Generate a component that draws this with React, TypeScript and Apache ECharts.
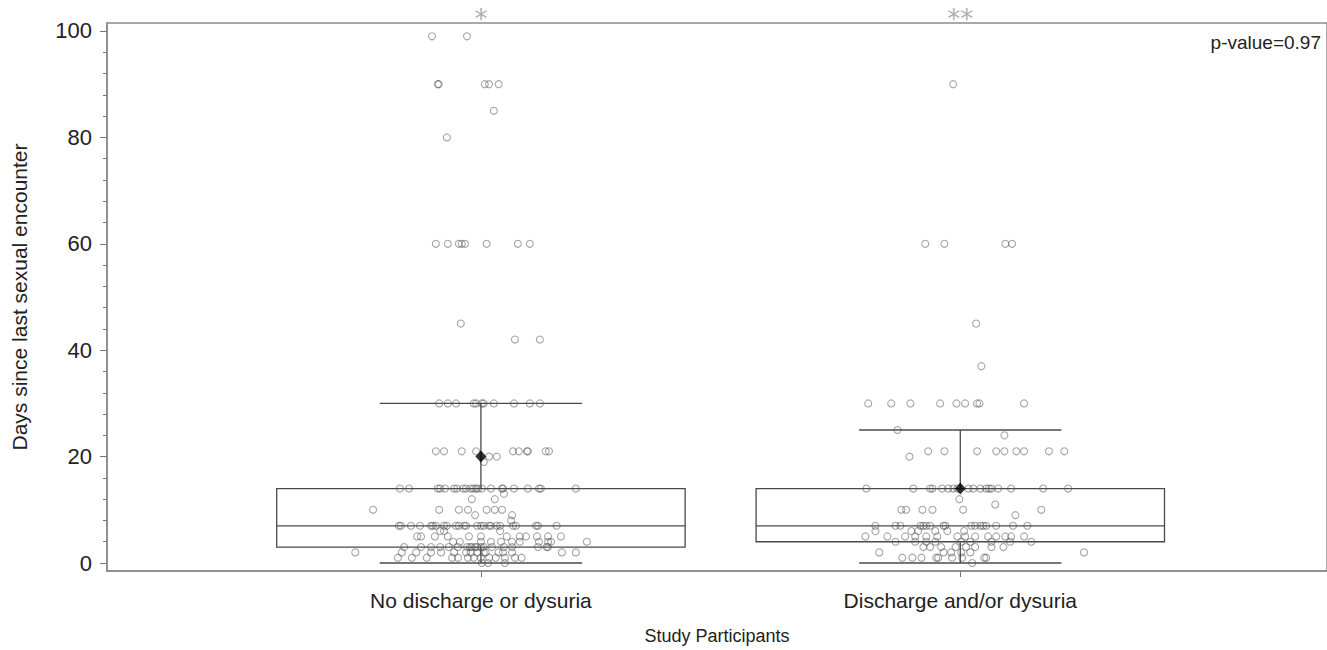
import React, { useEffect, useRef } from "react";
import * as echarts from "echarts";

// ---- data ----
const categories = ["No discharge or dysuria", "Discharge and/or dysuria"];
const whiskerLow = [0, 0];
const q1 = [3, 4];
const median = [7, 7];
const q3 = [14, 14];
const whiskerHigh = [30, 25];
const means = [20, 14];
const yMajorTicks = [0, 20, 40, 60, 80, 100];
const offScaleMarks = ["*", "**"];
const pValueText = "p-value=0.97";

// [days, jitter offsets in thousandths of the category spacing]
const noDischargePoints: [number, number[]][] = [
  [99, [-102, -29]],
  [90, [-90, -88, 8, 17, 37]],
  [85, [27]],
  [80, [-71]],
  [60, [-94, -69, -46, -40, -33, 12, 77, 102]],
  [45, [-42]],
  [42, [71, 123]],
  [30, [-87, -69, -52, -15, -10, 2, 6, 27, 69, 102, 123]],
  [21, [-94, -77, -40, -10, 67, 79, 96, 98, 135, 142]],
  [20, [17, 33]],
  [19, [6]],
  [14, [-169, -150, -90, -85, -75, -56, -50, -37, -31, -21, -15, -10, -6, 2, 21, 44, 46, 69, 98, 121, 125, 198]],
  [13, [48]],
  [12, [-19, 29]],
  [10, [-225, -87, -46, -27, 12, 29, 44]],
  [9, [-12, 65]],
  [8, [63]],
  [7, [-171, -167, -146, -127, -104, -100, -94, -77, -71, -52, -46, -35, -31, -8, 0, 6, 17, 21, 33, 40, 67, 73, 115, 119, 158]],
  [6, [-85, -77, 40]],
  [5, [-133, -125, -96, -69, -25, 0, 54, 81, 94, 117, 140, 167]],
  [4, [-58, -44, 0, 21, 42, 65, 81, 121, 140, 146, 221]],
  [3, [-160, -125, -104, -85, -67, -48, -29, -23, -19, -12, -8, 0, 6, 23, 48, 65, 119, 137, 140]],
  [2, [-262, -165, -135, -104, -83, -56, -31, -21, -8, 6, 10, 37, 46, 65, 169, 198]],
  [1, [-173, -144, -113, -60, -48, -27, -15, 0, 17, 31, 50, 71, 85]],
  [0, [2, 15, 50]],
];

const dischargePoints: [number, number[]][] = [
  [90, [-15]],
  [60, [-73, -33, 94, 108]],
  [45, [33]],
  [37, [44]],
  [30, [-192, -144, -104, -42, -8, 10, 35, 40, 133]],
  [25, [-131]],
  [24, [92]],
  [21, [-67, -33, 35, 75, 92, 117, 133, 185, 217]],
  [20, [-106]],
  [14, [-196, -98, -63, -58, -38, -25, -15, -6, 17, 27, 42, 54, 60, 65, 79, 106, 173, 225]],
  [12, [-2]],
  [11, [73]],
  [10, [-123, -113, -79, -58, 6, 169]],
  [9, [115]],
  [7, [-177, -135, -125, -83, -77, -71, -63, -35, -31, 23, 31, 42, 48, 54, 75, 110, 140]],
  [6, [-177, -102, -88, -52, -27, 8]],
  [5, [-198, -152, -115, -94, -71, -48, -6, 10, 31, 58, 75, 94, 106, 133]],
  [4, [-135, -94, -71, -52, 2, 21, 65, 104, 148]],
  [3, [-77, -63, -40, -10, 12, 31, 65, 90]],
  [2, [-169, -35, -19, 2, 21, 258]],
  [1, [-121, -100, -81, -50, -46, -17, 4, 50, 54]],
  [0, [25]],
];

const FONT = "'Liberation Sans', Arial, Helvetica, sans-serif";

function buildPoints(groupIndex: number, rows: [number, number[]][]) {
  const out: number[][] = [];
  rows.forEach(([v, jit]) => {
    jit.forEach((j) => out.push([groupIndex + j / 1000, v]));
  });
  return out;
}

export default function App() {
  const ref = useRef<HTMLDivElement>(null);

  useEffect(() => {
    if (!ref.current) return;
    const chart = echarts.init(ref.current, null, { renderer: "svg" });

    const boxData = categories.map((_, i) => [i, whiskerLow[i], q1[i], median[i], q3[i], whiskerHigh[i]]);
    const meanData = categories.map((_, i) => [i, means[i]]);
    const points = [...buildPoints(0, noDischargePoints), ...buildPoints(1, dischargePoints)];
    const minorTicks: number[] = [];
    for (let v = 0; v <= 100; v += 4) if (v % 20 !== 0) minorTicks.push(v);
    const yMin = -1.5;
    const yMax = 101.5;

    const lineStyle = { stroke: "#4a4a4a", lineWidth: 1.3, fill: "transparent" };

    chart.setOption({
      animation: false,
      backgroundColor: "#ffffff",
      grid: {
        left: 107,
        right: -2,
        top: 23,
        bottom: 79,
        show: true,
        borderColor: "#8a8a8a",
        borderWidth: 1.5,
      },
      xAxis: {
        type: "value",
        min: -0.78,
        max: 1.765,
        axisLine: { show: true, onZero: false, lineStyle: { color: "#8a8a8a", width: 1.5 } },
        axisTick: { show: true, customValues: [0, 1], length: 6, lineStyle: { color: "#777" } },
        axisLabel: {
          customValues: [0, 1],
          formatter: (v: number) => categories[Math.round(v)] ?? "",
          fontSize: 21,
          color: "#222",
          margin: 19,
          fontFamily: FONT,
        },
        splitLine: { show: false },
        name: "Study Participants",
        nameLocation: "middle",
        nameGap: 56,
        nameTextStyle: { fontSize: 18, color: "#222", fontFamily: FONT },
      },
      yAxis: [
        {
          type: "value",
          min: yMin,
          max: yMax,
          axisLine: { show: true, onZero: false, lineStyle: { color: "#8a8a8a", width: 1.5 } },
          axisTick: { show: true, customValues: yMajorTicks, length: 7, lineStyle: { color: "#777" } },
          axisLabel: {
            customValues: yMajorTicks,
            fontSize: 22,
            color: "#222",
            margin: 15,
            fontFamily: FONT,
          },
          splitLine: { show: false },
          name: "Days since last sexual encounter",
          nameLocation: "middle",
          nameGap: 77,
          nameTextStyle: { fontSize: 21, color: "#222", fontFamily: FONT },
        },
        {
          type: "value",
          min: yMin,
          max: yMax,
          position: "left",
          axisLine: { show: false, onZero: false },
          axisTick: { show: true, customValues: minorTicks, length: 4, lineStyle: { color: "#777" } },
          axisLabel: { show: false },
          splitLine: { show: false },
        },
      ],
      series: [
        {
          type: "custom",
          name: "box",
          data: boxData,
          encode: { x: 0, y: [1, 2, 3, 4, 5] },
          z: 2,
          renderItem: (_params: any, api: any) => {
            const x = api.value(0);
            const lo = api.coord([x, api.value(1)]);
            const b1 = api.coord([x, api.value(2)]);
            const md = api.coord([x, api.value(3)]);
            const b3 = api.coord([x, api.value(4)]);
            const hi = api.coord([x, api.value(5)]);
            const unit = api.size([1, 0])[0];
            const bw = unit * 0.426;
            const cw = unit * 0.211;
            return {
              type: "group",
              children: [
                { type: "rect", shape: { x: b1[0] - bw, y: b3[1], width: 2 * bw, height: b1[1] - b3[1] }, style: { ...lineStyle } },
                { type: "line", shape: { x1: md[0] - bw, y1: md[1], x2: md[0] + bw, y2: md[1] }, style: { ...lineStyle } },
                { type: "line", shape: { x1: hi[0], y1: hi[1], x2: b3[0], y2: b3[1] }, style: { ...lineStyle } },
                { type: "line", shape: { x1: lo[0], y1: lo[1], x2: b1[0], y2: b1[1] }, style: { ...lineStyle } },
                { type: "line", shape: { x1: hi[0] - cw, y1: hi[1], x2: hi[0] + cw, y2: hi[1] }, style: { ...lineStyle } },
                { type: "line", shape: { x1: lo[0] - cw, y1: lo[1], x2: lo[0] + cw, y2: lo[1] }, style: { ...lineStyle } },
              ],
            };
          },
        },
        {
          type: "scatter",
          name: "points",
          data: points,
          symbol: "circle",
          symbolSize: 7,
          z: 3,
          itemStyle: { color: "rgba(255,255,255,0)", borderColor: "rgba(70,70,70,0.6)", borderWidth: 1.1 },
        },
        {
          type: "scatter",
          name: "mean",
          data: meanData,
          symbol: "diamond",
          symbolSize: [11, 12],
          z: 4,
          itemStyle: { color: "#000" },
        },
        {
          type: "scatter",
          name: "offscale",
          data: offScaleMarks.map((m, i) => [i, 103.3, m]),
          symbol: "circle",
          symbolSize: 1,
          clip: false,
          z: 4,
          itemStyle: { color: "rgba(0,0,0,0)" },
          label: {
            show: true,
            position: "inside",
            formatter: (p: any) => p.value[2],
            fontSize: 26,
            color: "#999",
            fontFamily: "'DejaVu Sans', sans-serif",
            verticalAlign: "middle",
            offset: [0, 6],
          },
        },
      ],
      graphic: [
        {
          type: "text",
          right: 6,
          top: 33,
          style: { text: pValueText, fontSize: 19, fill: "#222", fontFamily: FONT },
        },
      ],
    });

    return () => chart.dispose();
  }, []);

  return (
    <div
      ref={ref}
      style={{ position: "absolute", left: 0, top: 0, width: 1327, height: 650 }}
    />
  );
}
